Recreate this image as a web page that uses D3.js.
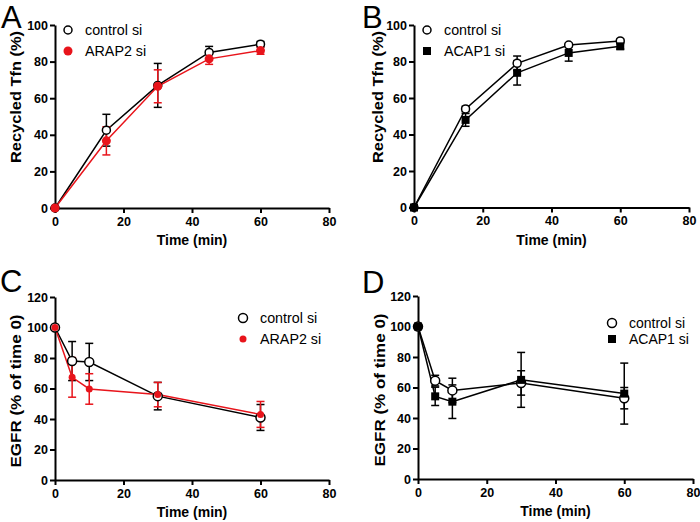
<!DOCTYPE html>
<html><head><meta charset="utf-8">
<script src="https://cdn.jsdelivr.net/npm/d3@7"></script>
<style>body{margin:0;background:#fff}svg{display:block}text{font-family:"Liberation Sans",Arial,sans-serif}</style>
</head><body>
<svg id="c" width="700" height="522"></svg>
<script>
const timeAB = [0, 15, 30, 45, 60];
const ctrlA = [0, 42.5, 67, 85, 89.5];
const ctrlAErr = [0, 8.7, 12, 3.3, 1.5];
const arap2A = [0, 36.7, 66.5, 81.5, 86];
const arap2AErr = [0, 7.7, 9, 3, 2];
const ctrlB = [0, 54, 79, 89, 91.3];
const ctrlBErr = [0, 1.5, 4, 1, 1];
const acap1B = [0, 48, 73.8, 84.7, 88.3];
const acap1BErr = [0, 3.5, 6.7, 4.5, 1.5];
const timeCD = [0, 5, 10, 30, 60];
const ctrlC = [100, 78, 77.4, 55, 41];
const ctrlCErr = [0, 12.8, 12.2, 9, 8.5];
const arap2C = [100, 67.3, 59.7, 56, 43];
const arap2CErr = [0, 13, 10, 8, 8.5];
const ctrlD = [100, 64.5, 58.1, 63, 53];
const ctrlDErr = [0, 3.5, 8, 8, 7];
const acap1D = [100, 54.2, 50.7, 65, 56];
const acap1DErr = [0, 6, 11, 18, 20];
const xTicks = [0, 20, 40, 60, 80];
const yTicksAB = [0, 20, 40, 60, 80, 100];
const yTicksCD = [0, 20, 40, 60, 80, 100, 120];

const svg = d3.select("#c");

function panel(cfg) {
  const g = svg.append("g");
  const x = d3.scaleLinear().domain([0, 80]).range([cfg.x0, cfg.x1]);
  const y = d3.scaleLinear().domain([0, cfg.ymax]).range([cfg.y0, cfg.y1]);
  const xa = g.append("g").attr("transform", `translate(0,${cfg.y0})`)
    .call(d3.axisBottom(x).tickValues(xTicks).tickSize(5).tickSizeOuter(0).tickPadding(4));
  const ya = g.append("g").attr("transform", `translate(${cfg.x0},0)`)
    .call(d3.axisLeft(y).tickValues(cfg.yTicks).tickSize(5).tickSizeOuter(0).tickPadding(2));
  [xa, ya].forEach(a => {
    a.select(".domain").attr("stroke", "#000").attr("stroke-width", 2);
    a.selectAll(".tick line").attr("stroke", "#000").attr("stroke-width", 2);
    a.selectAll(".tick text").attr("fill", "#000").attr("font-size", 12.5).attr("font-weight", "bold")
      .attr("font-family", "Liberation Sans, Arial, sans-serif");
  });
  g.append("text").attr("x", (cfg.x0 + cfg.x1) / 2).attr("y", cfg.xtY).attr("text-anchor", "middle")
    .attr("font-size", 14).attr("font-weight", "bold").text("Time (min)");
  g.append("text").attr("transform", `translate(${cfg.ytX},${cfg.ytCY}) rotate(-90)`)
    .attr("text-anchor", "middle").attr("dy", "0.35em")
    .attr("font-size", 14).attr("font-weight", "bold")
    .attr("textLength", cfg.ytLen).attr("lengthAdjust", "spacingAndGlyphs").text(cfg.ytitle);
  g.append("text").attr("x", cfg.letterX).attr("y", cfg.letterY).attr("font-size", 31).text(cfg.letter);

  cfg.series.forEach(s => {
    const pts = s.t.map((t, i) => ({t, v: s.v[i], e: s.e[i]}));
    const line = d3.line().x(d => x(d.t)).y(d => y(d.v));
    g.append("path").datum(pts).attr("d", line).attr("fill", "none")
      .attr("stroke", s.color).attr("stroke-width", 1.5);
    pts.filter(d => d.e > 0).forEach(d => {
      const cx = x(d.t);
      g.append("line").attr("x1", cx).attr("x2", cx).attr("y1", y(d.v - d.e)).attr("y2", y(d.v + d.e))
        .attr("stroke", s.color).attr("stroke-width", 1.5);
      [d.v - d.e, d.v + d.e].forEach(v => {
        g.append("line").attr("x1", cx - 4).attr("x2", cx + 4).attr("y1", y(v)).attr("y2", y(v))
          .attr("stroke", s.color).attr("stroke-width", 1.5);
      });
    });
  });
  cfg.series.forEach(s => {
    s.t.forEach((t, i) => marker(g, s, x(t), y(s.v[i])));
  });
  cfg.series.forEach((s, i) => {
    const ly = cfg.legY + i * cfg.legDY;
    marker(g, s, cfg.legX, ly);
    g.append("text").attr("x", cfg.legX + 17).attr("y", ly).attr("dy", "0.36em")
      .attr("font-size", cfg.legFont || 14.3).text(s.name);
  });
}

function marker(g, s, cx, cy) {
  if (s.shape === "open") {
    g.append("circle").attr("cx", cx).attr("cy", cy).attr("r", s.r || 4)
      .attr("fill", "#fff").attr("stroke", "#000").attr("stroke-width", 1.5);
  } else if (s.shape === "dot") {
    g.append("circle").attr("cx", cx).attr("cy", cy).attr("r", s.r || 4.5).attr("fill", s.color);
  } else {
    const h = s.r || 4;
    g.append("rect").attr("x", cx - h).attr("y", cy - h).attr("width", 2 * h).attr("height", 2 * h).attr("fill", s.color);
  }
}

const red = "#e8141b";
panel({x0: 55, x1: 329, y0: 208, y1: 25, ymax: 100, yTicks: yTicksAB, xtY: 245,
  ytX: 16, ytCY: 97, ytLen: 132, ytitle: "Recycled Tfn (%)", letter: "A", letterX: 1, letterY: 28,
  legX: 68, legY: 30, legDY: 21,
  series: [
    {name: "control si", t: timeAB, v: ctrlA, e: ctrlAErr, color: "#000", shape: "open", r: 4},
    {name: "ARAP2 si", t: timeAB, v: arap2A, e: arap2AErr, color: red, shape: "dot", r: 4.5}
  ]});
panel({x0: 414, x1: 689, y0: 207.5, y1: 25, ymax: 100, yTicks: yTicksAB, xtY: 245,
  ytX: 378, ytCY: 97, ytLen: 132, ytitle: "Recycled Tfn (%)", letter: "B", letterX: 362, letterY: 28,
  legX: 427, legY: 30, legDY: 21,
  series: [
    {name: "control si", t: timeAB, v: ctrlB, e: ctrlBErr, color: "#000", shape: "open", r: 4},
    {name: "ACAP1 si", t: timeAB, v: acap1B, e: acap1BErr, color: "#000", shape: "square", r: 4}
  ]});
panel({x0: 55, x1: 329, y0: 480, y1: 297, ymax: 120, yTicks: yTicksCD, xtY: 517,
  ytX: 16, ytCY: 391, ytLen: 153, ytitle: "EGFR (% of time 0)", letter: "C", letterX: 0, letterY: 292,
  legX: 243, legY: 318, legDY: 21,
  series: [
    {name: "control si", t: timeCD, v: ctrlC, e: ctrlCErr, color: "#000", shape: "open", r: 4.5},
    {name: "ARAP2 si", t: timeCD, v: arap2C, e: arap2CErr, color: red, shape: "dot", r: 3.5}
  ]});
panel({x0: 418, x1: 693, y0: 479, y1: 296, ymax: 120, yTicks: yTicksCD, xtY: 516,
  ytX: 380, ytCY: 390, ytLen: 153, ytitle: "EGFR (% of time 0)", letter: "D", letterX: 362, letterY: 293,
  legX: 612, legY: 323, legDY: 16, legFont: 14,
  series: [
    {name: "control si", t: timeCD, v: ctrlD, e: ctrlDErr, color: "#000", shape: "open", r: 4.5},
    {name: "ACAP1 si", t: timeCD, v: acap1D, e: acap1DErr, color: "#000", shape: "square", r: 4}
  ]});
</script>
</body></html>
